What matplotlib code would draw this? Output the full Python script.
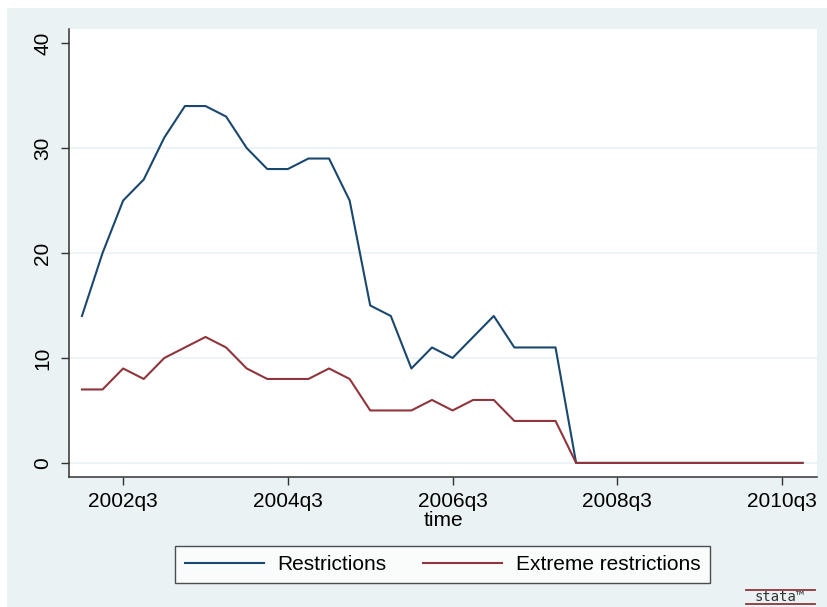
import matplotlib.pyplot as plt
from matplotlib.patches import Rectangle
from matplotlib.lines import Line2D

plt.rcParams['font.family'] = ['Liberation Sans', 'DejaVu Sans']

# quarterly counts, 2002q1 .. 2010q4
quarters = [f"{y}q{q}" for y in range(2002, 2011) for q in range(1, 5)]
restrictions = [14, 20, 25, 27, 31, 34, 34, 33, 30, 28, 28, 29, 29, 25, 15, 14,
                9, 11, 10, 12, 14, 11, 11, 11, 0, 0, 0, 0, 0, 0, 0, 0, 0, 0, 0, 0]
extreme = [7, 7, 9, 8, 10, 11, 12, 11, 9, 8, 8, 8, 9, 8, 5, 5,
           5, 6, 5, 6, 6, 4, 4, 4, 0, 0, 0, 0, 0, 0, 0, 0, 0, 0, 0, 0]
xtick_labels = ["2002q3", "2004q3", "2006q3", "2008q3", "2010q3"]
yticks = [0, 10, 20, 30, 40]

bg = '#EAF2F3'
navy = '#1A476F'
maroon = '#90353B'
fs = 15

fig = plt.figure(figsize=(8.27, 6.07), dpi=100, facecolor='white')
fig.patches.append(Rectangle((7 / 827, 0), 820 / 827, 599 / 607,
                             transform=fig.transFigure, facecolor=bg,
                             edgecolor='none', zorder=-10))

ax = fig.add_axes([69 / 827, 1 - 477 / 607, 748 / 827, 448 / 607])
ax.set_facecolor('white')

x = list(range(len(quarters)))
ax.plot(x, restrictions, color=navy, lw=1.5, label='Restrictions')
ax.plot(x, extreme, color=maroon, lw=1.5, label='Extreme restrictions')

ax.set_xlim(-0.63, 35.7)
ax.set_ylim(-1.34, 41.34)

ax.set_xticks([quarters.index(q) for q in xtick_labels])
ax.set_xticklabels(xtick_labels)
ax.set_yticks(yticks)
ax.set_yticklabels([str(v) for v in yticks], rotation=90, va='center')

for v in yticks[:-1]:
    ax.axhline(v, color=bg, lw=1.2, zorder=0)

for side in ['top', 'right']:
    ax.spines[side].set_visible(False)
for side in ['left', 'bottom']:
    ax.spines[side].set_color('#333333')
    ax.spines[side].set_linewidth(1.1)

ax.tick_params(axis='both', length=6, width=1, color='#333333',
               labelsize=fs, labelcolor='black')
ax.tick_params(axis='x', pad=5)
ax.tick_params(axis='y', pad=6)

ax.set_xlabel('time', fontsize=fs, labelpad=0)

leg = fig.legend(loc='center', bbox_to_anchor=(0.535, 0.07), ncol=2,
                 fontsize=fs, frameon=True, fancybox=False,
                 handlelength=3.8, handletextpad=0.65, columnspacing=1.75,
                 borderpad=0.45)
leg.get_frame().set_edgecolor('#222222')
leg.get_frame().set_linewidth(1.0)
leg.get_frame().set_facecolor('white')

# stata logo
fig.add_artist(Line2D([746 / 827, 815 / 827], [1 - 590 / 607] * 2,
                      color=maroon, lw=1.3, transform=fig.transFigure))
fig.add_artist(Line2D([746 / 827, 815 / 827], [1 - 604 / 607] * 2,
                      color=maroon, lw=1.3, transform=fig.transFigure))
fig.text(780 / 827, 1 - 597 / 607, 'stata™', ha='center', va='center',
         fontsize=10, family='DejaVu Sans Mono', color='#333333')

fig.savefig('out.png', dpi=100, facecolor=fig.get_facecolor())
